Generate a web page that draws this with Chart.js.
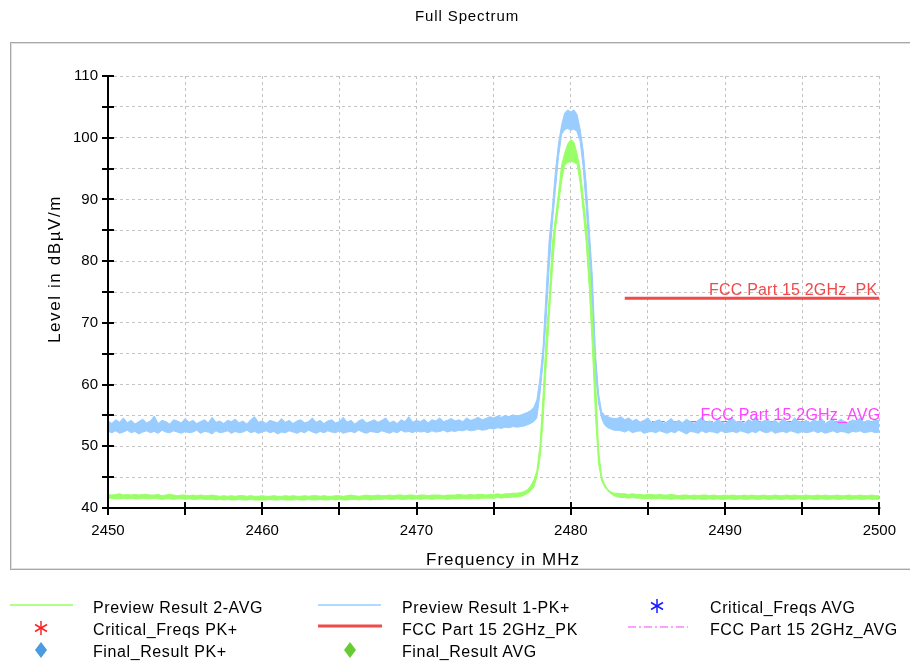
<!DOCTYPE html>
<html><head><meta charset="utf-8">
<script src="https://cdn.jsdelivr.net/npm/chart.js@4/dist/chart.umd.min.js"></script>
<style>
html,body{margin:0;padding:0;background:#fff;}
#wrap{position:relative;width:910px;height:664px;overflow:hidden;}
#c{position:absolute;left:0;top:0;}
#legend{position:absolute;left:0;top:0;pointer-events:none;}
#legend text{font-family:"Liberation Sans",Arial,sans-serif;font-size:16px;fill:#000;letter-spacing:0.6px;}
</style></head><body>
<div id="wrap">
<canvas id="c" width="910" height="664"></canvas>
<svg id="legend" width="910" height="664" xmlns="http://www.w3.org/2000/svg">
  <line x1="10" y1="605" x2="73" y2="605" stroke="#99ff66" stroke-width="1.5"/>
  <text x="93" y="607" dominant-baseline="central">Preview Result 2-AVG</text>
  <line x1="318" y1="605" x2="381" y2="605" stroke="#99ccff" stroke-width="1.5"/>
  <text x="402" y="607" dominant-baseline="central">Preview Result 1-PK+</text>
  <g stroke="#1a1aff" stroke-width="1.5">
    <line x1="657" y1="599" x2="657" y2="613"/>
    <line x1="651" y1="602.5" x2="663" y2="609.5"/>
    <line x1="651" y1="609.5" x2="663" y2="602.5"/>
  </g>
  <text x="710" y="607" dominant-baseline="central">Critical_Freqs AVG</text>
  <g stroke="#ff2020" stroke-width="1.5">
    <line x1="41" y1="621" x2="41" y2="635"/>
    <line x1="35" y1="624.5" x2="47" y2="631.5"/>
    <line x1="35" y1="631.5" x2="47" y2="624.5"/>
  </g>
  <text x="93" y="629" dominant-baseline="central">Critical_Freqs PK+</text>
  <line x1="318" y1="626" x2="382" y2="626" stroke="#f04a4a" stroke-width="3"/>
  <text x="402" y="629" dominant-baseline="central">FCC Part 15 2GHz_PK</text>
  <line x1="628" y1="627" x2="688" y2="627" stroke="#ff44ff" stroke-width="1" stroke-dasharray="8,3,2,3"/>
  <text x="710" y="629" dominant-baseline="central">FCC Part 15 2GHz_AVG</text>
  <polygon points="41,642 47,650 41,658 35,650" fill="#4a9be0"/>
  <text x="93" y="651" dominant-baseline="central">Final_Result PK+</text>
  <polygon points="350,642 356,650 350,658 344,650" fill="#66cc33"/>
  <text x="402" y="651" dominant-baseline="central">Final_Result AVG</text>
</svg>
</div>
<script>
// ---------------- data ----------------
const chartTitle = "Full Spectrum";
const xTitle = "Frequency in MHz";
const yTitle = "Level in dB\u00B5V/m";

const freqMHz = [
 2450,2450.25,2450.5,2450.75,2451,2451.25,2451.5,2451.75,2452,2452.25,
 2452.5,2452.75,2453,2453.25,2453.5,2453.75,2454,2454.25,2454.5,2454.75,
 2455,2455.25,2455.5,2455.75,2456,2456.25,2456.5,2456.75,2457,2457.25,
 2457.5,2457.75,2458,2458.25,2458.5,2458.75,2459,2459.25,2459.5,2459.75,
 2460,2460.25,2460.5,2460.75,2461,2461.25,2461.5,2461.75,2462,2462.25,
 2462.5,2462.75,2463,2463.25,2463.5,2463.75,2464,2464.25,2464.5,2464.75,
 2465,2465.25,2465.5,2465.75,2466,2466.25,2466.5,2466.75,2467,2467.25,
 2467.5,2467.75,2468,2468.25,2468.5,2468.75,2469,2469.25,2469.5,2469.75,
 2470,2470.25,2470.5,2470.75,2471,2471.25,2471.5,2471.75,2472,2472.25,
 2472.5,2472.75,2473,2473.25,2473.5,2473.75,2474,2474.25,2474.5,2474.75,
 2475,2475.25,2475.5,2475.75,2476,2476.25,2476.5,
 2476.8,2477,2477.2,2477.4,2477.6,2477.8,
 2478,2478.2,2478.4,2478.6,2478.8,
 2479,2479.2,2479.4,2479.6,2479.8,
 2480,2480.2,2480.4,2480.6,2480.8,
 2481,2481.2,2481.4,2481.6,2481.8,
 2482,2482.2,2482.4,2482.6,2482.8,
 2483,2483.25,2483.5,2483.75,2484,2484.25,2484.5,2484.75,2485,2485.25,
 2485.5,2485.75,2486,2486.25,2486.5,2486.75,2487,2487.25,2487.5,2487.75,
 2488,2488.25,2488.5,2488.75,2489,2489.25,2489.5,2489.75,2490,2490.25,
 2490.5,2490.75,2491,2491.25,2491.5,2491.75,2492,2492.25,2492.5,2492.75,
 2493,2493.25,2493.5,2493.75,2494,2494.25,2494.5,2494.75,2495,2495.25,
 2495.5,2495.75,2496,2496.25,2496.5,2496.75,2497,2497.25,2497.5,2497.75,
 2498,2498.25,2498.5,2498.75,2499,2499.25,2499.5,2499.75,2500
];

// Preview Result 1-PK+ : upper and lower edge of the trace band
const pkUpper = [
 54.1,53.7,54.3,53.9,54.6,53.8,54.2,53.6,54.0,54.4,
 53.8,54.1,54.9,53.7,54.2,54.0,53.6,54.3,54.1,53.8,
 54.5,53.9,54.2,53.7,54.0,54.3,53.8,54.7,53.9,54.1,
 53.7,54.2,54.0,54.4,53.8,54.1,53.6,54.3,54.8,53.9,
 54.1,53.7,54.2,54.0,53.8,54.5,53.9,54.2,53.7,54.1,
 54.3,53.8,54.0,54.6,53.9,54.2,53.7,54.1,54.3,53.8,
 54.0,54.7,53.9,54.2,53.6,54.1,54.4,53.8,54.0,54.3,
 53.9,54.2,54.6,53.8,54.1,53.7,54.3,54.0,54.8,53.9,
 54.2,54.0,54.4,53.8,54.3,54.1,54.6,54.0,54.2,54.5,
 54.1,54.3,54.0,54.6,54.2,54.4,54.7,54.3,54.5,54.8,
 54.6,54.9,54.7,55.0,54.8,55.1,54.9,
 55.1,55.3,55.5,55.8,56.3,57.5,
 61.0,66.0,75.0,83.5,88.5,
 94.5,99.0,102.0,104.0,104.5,
 104.2,104.5,103.8,101.5,98.0,
 92.5,85.0,77.5,65.0,58.5,
 55.6,55.0,54.8,54.6,54.5,
 54.5,54.8,54.3,54.6,54.1,54.4,53.9,54.2,54.6,53.8,
 54.1,54.3,53.7,54.0,54.5,53.9,54.2,53.8,54.4,54.0,
 53.7,54.2,54.7,53.9,54.1,53.8,54.3,54.0,53.6,54.2,
 54.5,53.9,54.1,53.7,54.3,54.0,54.8,53.8,54.1,54.3,
 53.9,54.2,53.7,54.4,54.0,53.8,54.6,54.1,53.9,54.2,
 53.8,54.3,54.0,54.5,53.7,54.1,54.2,53.9,54.4,54.0,
 53.8,54.3,54.1,54.6,53.9,54.2,54.0,54.3,54.1
];
const pkLower = [
 52.4,52.2,52.5,52.1,52.3,52.6,52.2,52.4,52.0,52.3,
 52.5,52.2,52.4,52.1,52.6,52.3,52.2,52.5,52.3,52.1,
 52.4,52.2,52.3,52.6,52.1,52.4,52.3,52.0,52.5,52.2,
 52.3,52.5,52.1,52.4,52.2,52.3,52.6,52.2,52.4,52.1,
 52.3,52.5,52.2,52.4,52.0,52.3,52.2,52.5,52.3,52.1,
 52.4,52.2,52.6,52.3,52.1,52.4,52.2,52.5,52.3,52.2,
 52.5,52.1,52.3,52.4,52.2,52.6,52.3,52.1,52.4,52.3,
 52.2,52.5,52.3,52.1,52.4,52.2,52.6,52.3,52.4,52.2,
 52.5,52.3,52.4,52.2,52.5,52.3,52.4,52.6,52.3,52.5,
 52.4,52.6,52.5,52.7,52.5,52.6,52.8,52.6,52.7,52.9,
 52.8,53.0,52.9,53.1,53.0,53.2,53.1,
 53.2,53.3,53.5,53.7,54.0,54.6,
 58.5,63.5,70.5,79.0,86.0,
 91.5,96.8,100.5,101.3,101.5,
 101.2,101.4,101.0,99.5,95.3,
 88.8,81.3,71.3,61.8,57.0,
 54.5,53.4,53.0,52.8,52.6,
 52.6,52.5,52.3,52.6,52.2,52.4,52.5,52.1,52.3,52.4,
 52.2,52.5,52.3,52.1,52.4,52.2,52.6,52.3,52.0,52.4,
 52.3,52.1,52.5,52.2,52.4,52.3,52.1,52.5,52.2,52.3,
 52.4,52.2,52.5,52.3,52.1,52.4,52.2,52.6,52.3,52.2,
 52.5,52.1,52.3,52.4,52.2,52.5,52.3,52.1,52.4,52.2,
 52.3,52.5,52.2,52.4,52.1,52.3,52.5,52.2,52.4,52.3,
 52.1,52.4,52.3,52.5,52.2,52.3,52.4,52.2,52.3
];

// Preview Result 2-AVG : upper and lower edge of the trace band
const avgUpper = [
 42.2,42.1,42.2,42.3,42.1,42.2,42.1,42.2,42.1,42.2,
 42.2,42.1,42.1,42.2,42.0,42.1,42.2,42.1,42.0,42.1,
 42.1,42.0,42.1,42.0,42.1,42.0,42.0,42.1,42.0,41.9,
 42.0,41.9,42.0,41.9,42.0,42.0,41.9,42.0,41.9,41.9,
 42.0,41.9,41.9,42.0,41.9,41.9,42.0,41.9,42.0,41.9,
 41.9,42.0,41.9,42.0,42.0,41.9,42.0,41.9,41.9,42.0,
 42.0,41.9,42.0,42.1,42.0,41.9,42.0,42.1,42.0,42.0,
 42.1,42.0,42.0,42.1,42.0,42.1,42.1,42.0,42.1,42.1,
 42.0,42.1,42.1,42.0,42.1,42.1,42.1,42.0,42.1,42.1,
 42.1,42.2,42.1,42.1,42.2,42.1,42.2,42.2,42.1,42.2,
 42.2,42.3,42.2,42.3,42.3,42.4,42.4,
 42.5,42.7,43.0,43.6,44.5,46.0,
 50.0,58.0,67.5,74.0,82.8,
 87.0,91.0,95.5,97.5,99.0,
 99.7,99.3,97.5,95.0,90.5,
 86.0,80.0,71.0,61.0,49.5,
 45.0,43.8,43.0,42.6,42.4,
 42.4,42.3,42.3,42.2,42.3,42.2,42.2,42.1,42.2,42.2,
 42.1,42.2,42.1,42.1,42.2,42.1,42.0,42.1,42.1,42.0,
 42.1,42.0,42.1,42.1,42.0,42.1,42.0,42.0,42.1,42.0,
 42.1,42.0,42.0,42.1,42.0,42.1,42.0,42.0,42.1,42.0,
 42.0,42.1,42.0,42.0,42.1,42.0,42.1,42.0,42.0,42.1,
 42.0,42.0,42.1,42.0,42.1,42.0,42.0,42.1,42.0,42.0,
 42.1,42.0,42.0,42.1,42.0,42.0,42.1,42.0,42.0
];
const avgLower = [
 41.5,41.6,41.5,41.5,41.6,41.5,41.6,41.5,41.5,41.6,
 41.5,41.5,41.6,41.5,41.4,41.5,41.5,41.4,41.5,41.5,
 41.4,41.5,41.4,41.4,41.5,41.4,41.4,41.4,41.3,41.4,
 41.3,41.4,41.3,41.3,41.4,41.3,41.3,41.4,41.3,41.3,
 41.3,41.3,41.4,41.3,41.3,41.4,41.3,41.3,41.3,41.4,
 41.3,41.3,41.4,41.3,41.3,41.4,41.3,41.3,41.4,41.3,
 41.4,41.3,41.3,41.4,41.4,41.3,41.4,41.4,41.3,41.4,
 41.4,41.4,41.5,41.4,41.4,41.5,41.4,41.4,41.5,41.4,
 41.5,41.4,41.5,41.5,41.4,41.5,41.5,41.5,41.4,41.5,
 41.5,41.5,41.6,41.5,41.5,41.6,41.5,41.6,41.6,41.6,
 41.6,41.7,41.6,41.7,41.7,41.8,41.8,
 41.9,42.1,42.4,42.8,43.4,45.0,
 48.0,54.0,63.0,71.0,78.5,
 85.0,89.0,93.0,95.5,96.0,
 96.2,96.0,95.8,92.8,88.2,
 83.0,75.5,66.0,55.0,47.2,
 44.4,43.4,42.8,42.3,42.0,
 41.8,41.7,41.7,41.6,41.7,41.6,41.6,41.5,41.6,41.5,
 41.5,41.6,41.5,41.5,41.4,41.5,41.5,41.4,41.5,41.5,
 41.4,41.5,41.4,41.4,41.5,41.4,41.5,41.4,41.4,41.5,
 41.4,41.4,41.5,41.4,41.4,41.5,41.4,41.4,41.5,41.4,
 41.4,41.5,41.4,41.4,41.5,41.4,41.4,41.5,41.4,41.4,
 41.5,41.4,41.4,41.5,41.4,41.4,41.5,41.4,41.4,41.5,
 41.4,41.4,41.5,41.4,41.4,41.5,41.4,41.4,41.4
];

// Limit lines
const limitFreqMHz = [2483.5, 2500];
const pkLimit = [74, 74];
const avgLimit = [54, 54];
const limitNames = ["FCC Part 15 2GHz_PK", "FCC Part 15 2GHz_AVG"];

// Axis ticks
const xMin = 2450, xMax = 2500, xStep = 5, xLabelEvery = 10;
const yMin = 40, yMax = 110, yStep = 5, yLabelEvery = 10;

// ---------------- chart ----------------
const C_PK = '#99ccff', C_AVG = '#99ff66', C_PKL = '#f04a4a', C_AVGL = '#ff44ff';
const pts = (xs, ys) => xs.map((v, i) => ({x: v, y: ys[i]}));
const FONT = '"Liberation Sans", Arial, sans-serif';

const decor = {
  id: 'decor',
  beforeDraw(chart) {
    const ctx = chart.ctx;
    ctx.save();
    ctx.lineWidth = 1;
    ctx.strokeStyle = '#a8a8a8';
    ctx.strokeRect(10.5, 42.5, 920, 527);
    ctx.strokeStyle = '#dedede';
    ctx.strokeRect(11.5, 43.5, 920, 525);
    ctx.restore();
  },
  afterDatasetsDraw(chart) {
    const {ctx, chartArea: a, scales: {x, y}} = chart;
    ctx.save();
    ctx.font = '16px ' + FONT;
    ctx.textAlign = 'right';
    ctx.textBaseline = 'alphabetic';
    try { ctx.letterSpacing = '0.2px'; } catch (e) {}
    ctx.fillStyle = '#f24848';
    ctx.fillText(limitNames[0], x.getPixelForValue(limitFreqMHz[1]) - 2, y.getPixelForValue(pkLimit[1]) - 3);
    ctx.fillStyle = '#ff44ff';
    ctx.fillText(limitNames[1], x.getPixelForValue(limitFreqMHz[1]) + 1, y.getPixelForValue(avgLimit[1]) - 2);
    // axes with crossing ticks
    ctx.strokeStyle = '#000';
    ctx.lineWidth = 2;
    ctx.beginPath();
    ctx.moveTo(a.left, a.top);
    ctx.lineTo(a.left, a.bottom);
    ctx.lineTo(a.right + 1, a.bottom);
    y.ticks.forEach(t => { const p = Math.round(y.getPixelForValue(t.value)); ctx.moveTo(a.left - 6, p); ctx.lineTo(a.left + 6, p); });
    x.ticks.forEach(t => { const p = Math.round(x.getPixelForValue(t.value)); ctx.moveTo(p, a.bottom - 6); ctx.lineTo(p, a.bottom + 7); });
    ctx.stroke();
    ctx.restore();
  },
  afterDraw(chart) {
    const ctx = chart.ctx;
    ctx.save();
    ctx.fillStyle = '#000';
    ctx.textAlign = 'center';
    ctx.textBaseline = 'middle';
    try { ctx.letterSpacing = '0.9px'; } catch (e) {}
    ctx.font = '15px ' + FONT;
    ctx.fillText(chartTitle, 467, 17);
    try { ctx.letterSpacing = '1px'; } catch (e) {}
    ctx.font = '17px ' + FONT;
    ctx.fillText(xTitle, 503, 560);
    try { ctx.letterSpacing = '1.6px'; } catch (e) {}
    ctx.translate(55, 269);
    ctx.rotate(-Math.PI / 2);
    ctx.fillText(yTitle, 0, 0);
    ctx.restore();
  }
};

new Chart(document.getElementById('c'), {
  type: 'line',
  data: {
    datasets: [
      {label: limitNames[0], data: pts(limitFreqMHz, pkLimit), borderColor: C_PKL, borderWidth: 3, pointRadius: 0, fill: false, order: 0},
      {label: 'Preview Result 2-AVG low', data: pts(freqMHz, avgLower), borderColor: C_AVG, borderWidth: 1, pointRadius: 0, fill: false, order: 1},
      {label: 'Preview Result 2-AVG', data: pts(freqMHz, avgUpper), borderColor: C_AVG, backgroundColor: C_AVG, borderWidth: 1, pointRadius: 0, fill: '-1', order: 1},
      {label: 'Preview Result 1-PK+ low', data: pts(freqMHz, pkLower), borderColor: C_PK, borderWidth: 1, pointRadius: 0, fill: false, order: 3},
      {label: 'Preview Result 1-PK+', data: pts(freqMHz, pkUpper), borderColor: C_PK, backgroundColor: C_PK, borderWidth: 1, pointRadius: 0, fill: '-1', order: 3},
      {label: limitNames[1], data: pts(limitFreqMHz, avgLimit), borderColor: C_AVGL, borderWidth: 1.2, borderDash: [8, 3, 2, 3], pointRadius: 0, fill: false, order: 5}
    ]
  },
  options: {
    responsive: false,
    animation: false,
    devicePixelRatio: 1,
    layout: {padding: {left: 0, top: 76, right: 24, bottom: 116}},
    plugins: {legend: {display: false}, title: {display: false}, tooltip: {enabled: false}},
    elements: {line: {tension: 0}},
    scales: {
      x: {
        type: 'linear', min: xMin, max: xMax,
        afterFit(s) { s.height = 40; },
        grid: {color: '#c4c4c4', lineWidth: 1, drawTicks: false},
        border: {display: false, dash: [3, 3]},
        ticks: {
          stepSize: xStep, autoSkip: false, maxRotation: 0, padding: 14,
          color: '#000', font: {size: 15, family: FONT},
          callback: v => (v % xLabelEvery === 0 ? String(v) : '')
        }
      },
      y: {
        type: 'linear', min: yMin, max: yMax,
        afterFit(s) { s.width = 108; },
        grid: {color: '#c4c4c4', lineWidth: 1, drawTicks: false},
        border: {display: false, dash: [3, 3]},
        ticks: {
          stepSize: yStep, autoSkip: false, padding: 10,
          color: '#000', font: {size: 15, family: FONT},
          callback: v => (v % yLabelEvery === 0 ? String(v) : '')
        }
      }
    }
  },
  plugins: [decor]
});
</script>
</body></html>
